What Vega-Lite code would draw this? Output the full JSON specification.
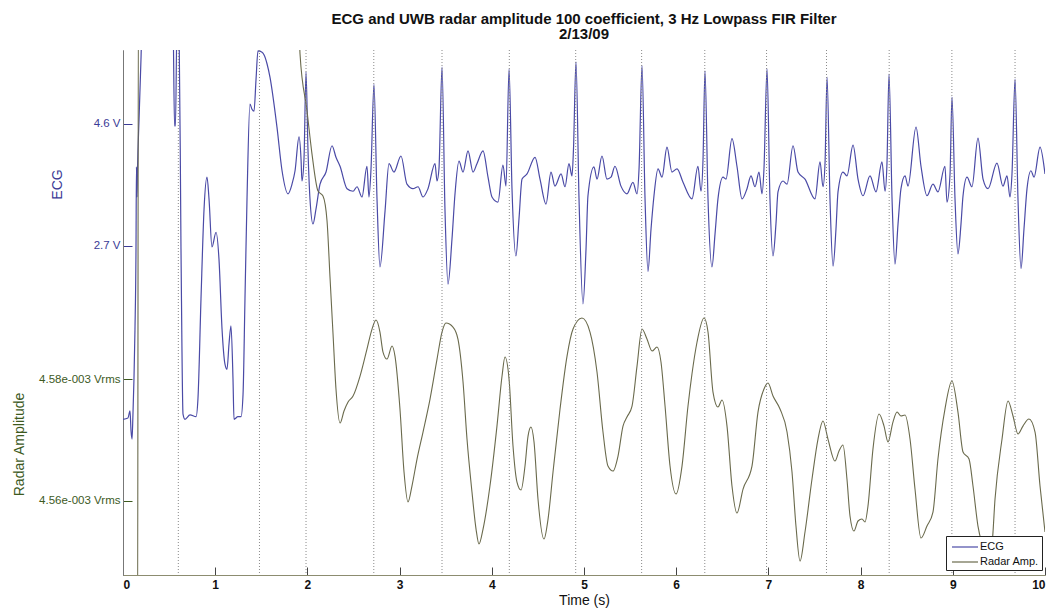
{
  "$schema": "https://vega.github.io/schema/vega-lite/v6.json",
  "width": 922,
  "height": 525,
  "padding": {"left": 12, "top": 11, "right": 8, "bottom": 4},
  "background": "white",
  "title": {
    "text": ["ECG and UWB radar amplitude 100 coefficient, 3 Hz Lowpass FIR Filter", "2/13/09"],
    "font": "Liberation Sans", "fontSize": 15, "fontWeight": "bold", "color": "#111",
    "anchor": "middle", "frame": "group", "lineHeight": 15, "offset": 8
  },
  "config": {
    "view": {"stroke": null},
    "axis": {"grid": false, "labelFont": "Liberation Sans", "titleFont": "Liberation Sans"},
    "legend": {"labelFont": "Liberation Sans"}
  },
  "datasets": {
    "ecg": [
      {"t":0,"v":-0.01},{"t":0.054,"v":0.01},{"t":0.076,"v":0.12},{"t":0.087,"v":-0.19},{"t":0.098,"v":-0.32},{"t":0.108,"v":0.07},{"t":0.119,"v":0.62},{"t":0.130,"v":1.40},{"t":0.141,"v":2.65},{"t":0.146,"v":3.93},{"t":0.152,"v":3.46},{"t":0.157,"v":3.87},{"t":0.174,"v":4.68},{"t":0.195,"v":5.61},{"t":0.206,"v":6.08},{"t":0.401,"v":6.24},{"t":0.542,"v":6.24},{"t":0.559,"v":4.57},{"t":0.569,"v":4.57},{"t":0.586,"v":6.24},{"t":0.607,"v":6.24},{"t":0.629,"v":2.65},{"t":0.651,"v":0.07},{"t":0.672,"v":-0.01},{"t":0.727,"v":0.06},{"t":0.792,"v":0.03},{"t":0.813,"v":0.31},{"t":0.846,"v":1.87},{"t":0.879,"v":3.27},{"t":0.911,"v":3.77},{"t":0.933,"v":3.43},{"t":0.965,"v":2.68},{"t":1.009,"v":2.91},{"t":1.041,"v":2.49},{"t":1.074,"v":1.40},{"t":1.106,"v":0.85},{"t":1.128,"v":0.77},{"t":1.150,"v":1.17},{"t":1.171,"v":1.45},{"t":1.193,"v":0.62},{"t":1.204,"v":-0.01},{"t":1.247,"v":0.03},{"t":1.280,"v":0.03},{"t":1.302,"v":0.38},{"t":1.323,"v":1.87},{"t":1.345,"v":3.43},{"t":1.377,"v":4.91},{"t":1.399,"v":4.83},{"t":1.421,"v":4.80},{"t":1.443,"v":5.30},{"t":1.464,"v":5.74},{"t":1.508,"v":5.72},{"t":1.529,"v":5.68},{"t":1.562,"v":5.54},{"t":1.594,"v":5.33},{"t":1.670,"v":4.55},{"t":1.725,"v":3.87},{"t":1.790,"v":3.51},{"t":1.833,"v":3.66},{"t":1.866,"v":3.87},{"t":1.909,"v":4.40},{"t":1.931,"v":4.05},{"t":1.941,"v":3.71},{"t":1.963,"v":4.05},{"t":1.985,"v":5.41},{"t":2.006,"v":4.21},{"t":2.028,"v":3.43},{"t":2.061,"v":3.04},{"t":2.093,"v":3.27},{"t":2.137,"v":3.66},{"t":2.202,"v":3.85},{"t":2.267,"v":4.26},{"t":2.310,"v":4.08},{"t":2.354,"v":3.94},{"t":2.430,"v":3.59},{"t":2.495,"v":3.55},{"t":2.538,"v":3.62},{"t":2.592,"v":3.46},{"t":2.646,"v":3.94},{"t":2.668,"v":3.46},{"t":2.690,"v":3.90},{"t":2.722,"v":5.22},{"t":2.755,"v":3.43},{"t":2.787,"v":2.37},{"t":2.842,"v":3.24},{"t":2.885,"v":3.98},{"t":2.939,"v":3.85},{"t":3.015,"v":4.10},{"t":3.080,"v":3.66},{"t":3.145,"v":3.59},{"t":3.200,"v":3.62},{"t":3.254,"v":3.46},{"t":3.308,"v":3.59},{"t":3.384,"v":3.98},{"t":3.406,"v":3.71},{"t":3.427,"v":3.90},{"t":3.460,"v":5.49},{"t":3.492,"v":3.27},{"t":3.525,"v":2.10},{"t":3.568,"v":2.80},{"t":3.601,"v":3.51},{"t":3.644,"v":4.02},{"t":3.688,"v":3.85},{"t":3.742,"v":4.18},{"t":3.796,"v":3.85},{"t":3.839,"v":3.98},{"t":3.905,"v":4.18},{"t":3.959,"v":3.77},{"t":4.002,"v":3.46},{"t":4.067,"v":3.38},{"t":4.121,"v":3.96},{"t":4.154,"v":3.63},{"t":4.187,"v":5.46},{"t":4.219,"v":3.59},{"t":4.262,"v":2.54},{"t":4.295,"v":3.12},{"t":4.328,"v":3.74},{"t":4.382,"v":3.82},{"t":4.469,"v":4.08},{"t":4.523,"v":3.74},{"t":4.588,"v":3.35},{"t":4.642,"v":3.85},{"t":4.685,"v":3.63},{"t":4.751,"v":3.82},{"t":4.794,"v":3.62},{"t":4.837,"v":3.98},{"t":4.870,"v":3.79},{"t":4.886,"v":4.21},{"t":4.913,"v":5.57},{"t":4.946,"v":3.43},{"t":4.989,"v":1.79},{"t":5.022,"v":2.65},{"t":5.043,"v":3.48},{"t":5.108,"v":3.93},{"t":5.141,"v":3.74},{"t":5.195,"v":4.10},{"t":5.249,"v":3.74},{"t":5.293,"v":3.77},{"t":5.336,"v":3.94},{"t":5.401,"v":3.63},{"t":5.466,"v":3.51},{"t":5.531,"v":3.69},{"t":5.575,"v":3.51},{"t":5.597,"v":3.90},{"t":5.629,"v":5.51},{"t":5.662,"v":3.43},{"t":5.694,"v":2.30},{"t":5.727,"v":2.96},{"t":5.759,"v":3.48},{"t":5.803,"v":3.90},{"t":5.846,"v":3.77},{"t":5.900,"v":4.24},{"t":5.954,"v":3.85},{"t":6.009,"v":3.90},{"t":6.074,"v":3.69},{"t":6.171,"v":3.43},{"t":6.236,"v":3.94},{"t":6.269,"v":3.55},{"t":6.291,"v":4.05},{"t":6.312,"v":5.43},{"t":6.345,"v":3.43},{"t":6.388,"v":2.37},{"t":6.421,"v":2.88},{"t":6.453,"v":3.43},{"t":6.508,"v":3.77},{"t":6.540,"v":3.74},{"t":6.605,"v":4.37},{"t":6.659,"v":3.94},{"t":6.714,"v":3.43},{"t":6.768,"v":3.59},{"t":6.811,"v":3.79},{"t":6.855,"v":3.62},{"t":6.898,"v":3.85},{"t":6.931,"v":3.51},{"t":6.952,"v":3.90},{"t":6.985,"v":5.46},{"t":7.017,"v":3.43},{"t":7.050,"v":2.54},{"t":7.082,"v":3.04},{"t":7.104,"v":3.54},{"t":7.158,"v":3.71},{"t":7.202,"v":3.66},{"t":7.267,"v":4.26},{"t":7.321,"v":3.85},{"t":7.397,"v":3.74},{"t":7.505,"v":3.43},{"t":7.560,"v":4.01},{"t":7.592,"v":3.62},{"t":7.614,"v":3.98},{"t":7.636,"v":5.33},{"t":7.668,"v":3.43},{"t":7.701,"v":2.38},{"t":7.733,"v":2.96},{"t":7.755,"v":3.54},{"t":7.809,"v":3.85},{"t":7.852,"v":3.79},{"t":7.918,"v":4.27},{"t":7.972,"v":3.74},{"t":8.026,"v":3.48},{"t":8.102,"v":3.79},{"t":8.167,"v":3.54},{"t":8.232,"v":4.01},{"t":8.265,"v":3.55},{"t":8.286,"v":3.98},{"t":8.308,"v":5.38},{"t":8.341,"v":3.43},{"t":8.373,"v":2.41},{"t":8.406,"v":3.04},{"t":8.438,"v":3.59},{"t":8.482,"v":3.79},{"t":8.514,"v":3.63},{"t":8.601,"v":4.55},{"t":8.655,"v":3.94},{"t":8.720,"v":3.48},{"t":8.785,"v":3.66},{"t":8.839,"v":3.54},{"t":8.915,"v":3.94},{"t":8.937,"v":3.38},{"t":8.970,"v":3.82},{"t":8.991,"v":5.02},{"t":9.024,"v":3.43},{"t":9.056,"v":2.57},{"t":9.089,"v":3.04},{"t":9.111,"v":3.48},{"t":9.154,"v":3.77},{"t":9.208,"v":3.62},{"t":9.273,"v":4.38},{"t":9.328,"v":3.74},{"t":9.382,"v":3.59},{"t":9.479,"v":3.99},{"t":9.544,"v":3.63},{"t":9.588,"v":3.79},{"t":9.620,"v":3.46},{"t":9.642,"v":3.82},{"t":9.675,"v":5.30},{"t":9.707,"v":3.43},{"t":9.740,"v":2.34},{"t":9.772,"v":2.96},{"t":9.805,"v":3.59},{"t":9.848,"v":3.87},{"t":9.881,"v":3.77},{"t":9.946,"v":4.24},{"t":10.0,"v":3.82}
    ],
    "radar": [
      {"t":0,"r":4.52742},{"t":0.157,"r":4.52742},{"t":0.168,"r":4.65065},{"t":1.887,"r":4.65065},{"t":1.920,"r":4.63339},{"t":1.996,"r":4.62403},{"t":2.050,"r":4.61696},{"t":2.115,"r":4.61088},{"t":2.169,"r":4.61006},{"t":2.213,"r":4.60596},{"t":2.245,"r":4.59675},{"t":2.278,"r":4.58739},{"t":2.310,"r":4.57835},{"t":2.354,"r":4.57277},{"t":2.397,"r":4.57474},{"t":2.441,"r":4.57622},{"t":2.495,"r":4.57720},{"t":2.571,"r":4.58049},{"t":2.646,"r":4.58492},{"t":2.701,"r":4.58821},{"t":2.744,"r":4.58969},{"t":2.787,"r":4.58772},{"t":2.820,"r":4.58443},{"t":2.863,"r":4.58328},{"t":2.918,"r":4.58542},{"t":2.950,"r":4.58377},{"t":3.004,"r":4.57507},{"t":3.048,"r":4.56472},{"t":3.091,"r":4.55979},{"t":3.134,"r":4.56242},{"t":3.189,"r":4.56685},{"t":3.254,"r":4.57129},{"t":3.330,"r":4.57671},{"t":3.406,"r":4.58328},{"t":3.460,"r":4.58772},{"t":3.503,"r":4.58920},{"t":3.579,"r":4.58854},{"t":3.633,"r":4.58657},{"t":3.688,"r":4.57950},{"t":3.731,"r":4.57014},{"t":3.785,"r":4.56143},{"t":3.829,"r":4.55535},{"t":3.861,"r":4.55289},{"t":3.905,"r":4.55535},{"t":3.980,"r":4.56242},{"t":4.056,"r":4.57227},{"t":4.111,"r":4.58049},{"t":4.143,"r":4.58361},{"t":4.187,"r":4.58000},{"t":4.230,"r":4.56899},{"t":4.273,"r":4.56307},{"t":4.317,"r":4.56176},{"t":4.360,"r":4.56570},{"t":4.393,"r":4.57063},{"t":4.425,"r":4.57211},{"t":4.458,"r":4.56965},{"t":4.501,"r":4.56028},{"t":4.566,"r":4.55371},{"t":4.610,"r":4.55699},{"t":4.664,"r":4.56472},{"t":4.740,"r":4.57507},{"t":4.816,"r":4.58377},{"t":4.881,"r":4.58821},{"t":4.978,"r":4.59002},{"t":5.065,"r":4.58772},{"t":5.141,"r":4.58115},{"t":5.206,"r":4.57129},{"t":5.260,"r":4.56570},{"t":5.315,"r":4.56488},{"t":5.369,"r":4.56734},{"t":5.423,"r":4.57227},{"t":5.466,"r":4.57375},{"t":5.521,"r":4.57556},{"t":5.575,"r":4.58213},{"t":5.629,"r":4.58821},{"t":5.683,"r":4.58657},{"t":5.738,"r":4.58460},{"t":5.792,"r":4.58525},{"t":5.835,"r":4.58279},{"t":5.879,"r":4.57556},{"t":5.933,"r":4.56570},{"t":5.998,"r":4.56110},{"t":6.063,"r":4.56570},{"t":6.128,"r":4.57556},{"t":6.171,"r":4.58082},{"t":6.226,"r":4.58608},{"t":6.302,"r":4.59002},{"t":6.345,"r":4.58772},{"t":6.399,"r":4.57786},{"t":6.453,"r":4.57540},{"t":6.497,"r":4.57655},{"t":6.551,"r":4.57227},{"t":6.605,"r":4.56242},{"t":6.659,"r":4.55798},{"t":6.725,"r":4.56192},{"t":6.822,"r":4.56570},{"t":6.887,"r":4.57457},{"t":6.952,"r":4.57835},{"t":6.996,"r":4.57934},{"t":7.050,"r":4.57720},{"t":7.126,"r":4.57507},{"t":7.202,"r":4.57129},{"t":7.256,"r":4.56472},{"t":7.299,"r":4.55584},{"t":7.343,"r":4.55009},{"t":7.397,"r":4.55486},{"t":7.473,"r":4.56357},{"t":7.538,"r":4.57014},{"t":7.592,"r":4.57310},{"t":7.646,"r":4.57014},{"t":7.722,"r":4.56652},{"t":7.766,"r":4.56817},{"t":7.809,"r":4.56915},{"t":7.852,"r":4.56357},{"t":7.885,"r":4.55749},{"t":7.928,"r":4.55502},{"t":7.972,"r":4.55667},{"t":8.015,"r":4.55699},{"t":8.048,"r":4.55650},{"t":8.080,"r":4.55913},{"t":8.134,"r":4.56849},{"t":8.200,"r":4.57425},{"t":8.254,"r":4.57227},{"t":8.297,"r":4.56965},{"t":8.351,"r":4.57293},{"t":8.395,"r":4.57457},{"t":8.438,"r":4.57392},{"t":8.482,"r":4.57408},{"t":8.536,"r":4.57014},{"t":8.590,"r":4.56192},{"t":8.655,"r":4.55387},{"t":8.720,"r":4.55584},{"t":8.785,"r":4.55814},{"t":8.839,"r":4.56685},{"t":8.915,"r":4.57507},{"t":8.991,"r":4.57967},{"t":9.056,"r":4.57457},{"t":9.111,"r":4.56800},{"t":9.176,"r":4.56685},{"t":9.219,"r":4.56242},{"t":9.273,"r":4.55584},{"t":9.317,"r":4.55289},{"t":9.371,"r":4.55042},{"t":9.425,"r":4.55289},{"t":9.458,"r":4.56028},{"t":9.534,"r":4.57014},{"t":9.599,"r":4.57638},{"t":9.653,"r":4.57392},{"t":9.707,"r":4.57096},{"t":9.761,"r":4.57227},{"t":9.826,"r":4.57342},{"t":9.892,"r":4.57129},{"t":9.946,"r":4.56242},{"t":10.0,"r":4.55486}
    ],
    "beats": [
      {"t":0.60},{"t":1.48},{"t":1.985},{"t":2.72},{"t":3.46},{"t":4.19},{"t":4.91},{"t":5.625},{"t":6.31},{"t":6.98},{"t":7.63},{"t":8.31},{"t":8.99},{"t":9.675}
    ]
  },
  "layer": [
    {
      "data": {"name": "ecg"},
      "mark": {"type": "line", "clip": true, "strokeWidth": 1.2, "interpolate": "monotone"},
      "encoding": {
        "x": {
          "field": "t", "type": "quantitative",
          "scale": {"domain": [0, 10], "nice": false, "zero": false},
          "axis": {
            "values": [0,1,2,3,4,5,6,7,8,9,10], "format": "d",
            "tickSize": -8, "tickColor": "#444", "domainColor": "#8c8c70",
            "labelFontSize": 12, "labelFontWeight": "bold", "labelColor": "#111", "labelPadding": 12,
            "title": "Time (s)", "titleFontSize": 14, "titleFontWeight": "normal", "titleColor": "#111", "titlePadding": 3
          }
        },
        "y": {
          "field": "v", "type": "quantitative",
          "scale": {"domain": [-2.441, 5.755], "nice": false, "zero": false},
          "axis": {
            "orient": "left", "values": [2.7, 4.6],
            "labelExpr": "format(datum.value, '.1f') + ' V'",
            "labelColor": "#3b3b96", "labelFontSize": 11.5, "labelPadding": 12,
            "tickSize": -9, "tickColor": "#3b3b96", "domainColor": "#777",
            "title": "ECG", "titleColor": "#3b3b96", "titleFontSize": 14, "titleFontWeight": "normal",
            "titleAngle": -90, "titleBaseline": "middle", "titleAlign": "center", "titleX": -66, "titleY": 134
          }
        },
        "color": {
          "datum": "ECG", "type": "nominal",
          "scale": {"domain": ["ECG", "Radar Amp."], "range": ["#4a4aa6", "#6a6a4c"]},
          "legend": {
            "orient": "none", "legendX": 823, "legendY": 486, "title": null,
            "fillColor": "white", "strokeColor": "#222", "padding": 3,
            "symbolType": "M-1.86,0H1.86", "symbolSize": 196, "symbolStrokeWidth": 1.2, "symbolOffset": 8,
            "labelOffset": 7, "labelFontSize": 11, "labelColor": "#111", "rowPadding": 2
          }
        }
      }
    },
    {
      "data": {"name": "radar"},
      "mark": {"type": "line", "clip": true, "strokeWidth": 1.1, "interpolate": "monotone"},
      "encoding": {
        "x": {"field": "t", "type": "quantitative"},
        "y": {
          "field": "r", "type": "quantitative",
          "scale": {"domain": [4.5478, 4.63406], "nice": false, "zero": false},
          "axis": {
            "orient": "left", "values": [4.56, 4.58],
            "labelExpr": "format(datum.value, '.2f') + 'e-003 Vrms'",
            "labelColor": "#3d5a1e", "labelFontSize": 11.5, "labelPadding": 12,
            "tickSize": -9, "tickColor": "#3d5a1e", "domainColor": "#777",
            "title": "Radar Amplitude", "titleColor": "#3d5a1e", "titleFontSize": 14, "titleFontWeight": "normal",
            "titleAngle": -90, "titleBaseline": "middle", "titleAlign": "center", "titleX": -104, "titleY": 394
          }
        },
        "color": {"datum": "Radar Amp.", "type": "nominal"}
      }
    },
    {
      "data": {"name": "beats"},
      "mark": {"type": "rule", "color": "#8a8a8a", "strokeDash": [1, 2], "strokeWidth": 1},
      "encoding": {
        "x": {"field": "t", "type": "quantitative"}
      }
    }
  ],
  "resolve": {"scale": {"y": "independent"}, "axis": {"y": "independent"}}
}
